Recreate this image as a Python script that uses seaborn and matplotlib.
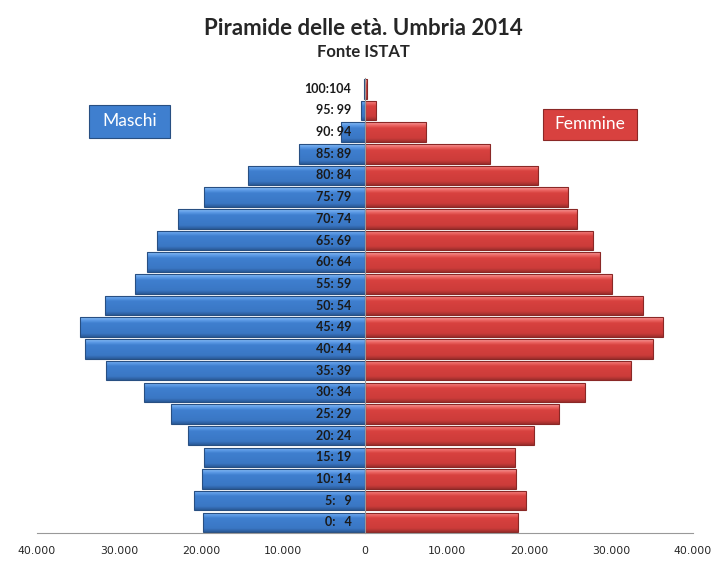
import pandas as pd
import matplotlib
matplotlib.use('Agg')
import matplotlib.pyplot as plt
from matplotlib.patches import Rectangle
from matplotlib.colors import LinearSegmentedColormap
import seaborn as sns
import numpy as np

#%% Data (residents)
eta = ['100:104', '95: 99', '90: 94', '85: 89', '80: 84', '75: 79', '70: 74',
       '65: 69', '60: 64', '55: 59', '50: 54', '45: 49', '40: 44', '35: 39',
       '30: 34', '25: 29', '20: 24', '15: 19', '10: 14', '5:  9', '0:  4']
maschi = [150, 500, 2950, 8100, 14300, 19600, 22800, 25400, 26600, 28100,
          31700, 34700, 34100, 31600, 27000, 23600, 21600, 19600, 19900,
          20900, 19700]
femmine = [280, 1350, 7450, 15300, 21100, 24800, 25800, 27800, 28700, 30100,
           33900, 36300, 35100, 32400, 26800, 23700, 20600, 18300, 18400,
           19600, 18700]
xticks = [-40000, -30000, -20000, -10000, 0, 10000, 20000, 30000, 40000]

df = pd.concat([
    pd.DataFrame({'eta': eta, 'pop': [-v for v in maschi], 'sesso': 'Maschi'}),
    pd.DataFrame({'eta': eta, 'pop': femmine, 'sesso': 'Femmine'}),
])

blu = '#3f7fcf'
rosso = '#d8413f'
blu_bordo = '#284f82'
rosso_bordo = '#8a2826'

# bevel shading (top light -> base -> dark bottom)
cm_blu = LinearSegmentedColormap.from_list(
    'b', [(0, '#8cc0f5'), (0.15, '#5d9be6'), (0.3, blu), (0.82, '#3a77c4'), (1, '#2a5a98')])
cm_rosso = LinearSegmentedColormap.from_list(
    'r', [(0, '#f8a0a0'), (0.15, '#ec6663'), (0.3, rosso), (0.82, '#cc3c3a'), (1, '#9c2e2c')])
grad = np.linspace(0, 1, 64).reshape(-1, 1)

#%% Plot
sns.set_style('white')
plt.rcParams['font.family'] = ['Lato', 'DejaVu Sans']

fig = plt.figure(figsize=(7.26, 5.69), dpi=100)
ax = fig.add_axes([0.051, 0.063, 0.9035, 0.800])

sns.barplot(data=df, x='pop', y='eta', hue='sesso', order=eta,
            palette={'Maschi': blu, 'Femmine': rosso}, dodge=False,
            orient='h', width=0.9, saturation=1, legend=False, ax=ax)

for bar, sesso in zip(list(ax.patches), ['Maschi'] * len(eta) + ['Femmine'] * len(eta)):
    x0, y0 = bar.get_x(), bar.get_y()
    w, h = bar.get_width(), bar.get_height()
    if w == 0:
        continue
    im = ax.imshow(grad, cmap=cm_blu if sesso == 'Maschi' else cm_rosso,
                   extent=(min(x0, x0 + w), max(x0, x0 + w), y0 + h, y0),
                   origin='upper', aspect='auto', interpolation='bilinear', zorder=1)
    im.set_clip_path(bar)
    bar.set_facecolor('none')
    bar.set_edgecolor(blu_bordo if sesso == 'Maschi' else rosso_bordo)
    bar.set_linewidth(0.8)
    bar.set_zorder(2)

for i, lab in enumerate(eta):
    ax.text(-1650, i, lab.replace('  ', '   '), ha='right', va='center',
            fontsize=9, fontweight='bold', color='#1a1a1a', zorder=5)

ax.set_xlim(-40000, 40000)
ax.set_ylim(len(eta) - 0.5, -0.5)
ax.set_xlabel('')
ax.set_ylabel('')

ax.set_xticks(xticks)
ax.set_xticklabels([f'{abs(v):,}'.replace(',', '.') for v in xticks],
                   family='DejaVu Sans', fontsize=7.8)
ax.set_yticks(np.arange(len(eta) - 1) + 0.5)
ax.set_yticklabels([])
ax.tick_params(axis='x', length=5, width=0.8, color='#999999', direction='out', pad=4)
ax.tick_params(axis='y', length=5, width=0.8, color='#999999', direction='out')

for s in ['top', 'right']:
    ax.spines[s].set_visible(False)
ax.spines['left'].set_position(('data', 0))
ax.spines['left'].set_color('#999999')
ax.spines['bottom'].set_color('#999999')
ax.spines['left'].set_zorder(4)

fig.text(0.5, 0.950, 'Piramide delle età. Umbria 2014', ha='center', va='center',
         fontsize=16, fontweight='bold')
fig.text(0.5, 0.909, 'Fonte ISTAT', ha='center', va='center',
         fontsize=12, fontweight='bold')

# legend boxes
fig.patches.append(Rectangle((0.1226, 0.7575), 0.1116, 0.058, transform=fig.transFigure,
                             fc=blu, ec=blu_bordo, lw=0.8))
fig.text(0.1784, 0.7865, 'Maschi', ha='center', va='center', fontsize=12.5, color='white')
fig.patches.append(Rectangle((0.7484, 0.7540), 0.1295, 0.0545, transform=fig.transFigure,
                             fc=rosso, ec=rosso_bordo, lw=0.8))
fig.text(0.8131, 0.7812, 'Femmine', ha='center', va='center', fontsize=12.5, color='white')

fig.savefig('out.png', dpi=100)
